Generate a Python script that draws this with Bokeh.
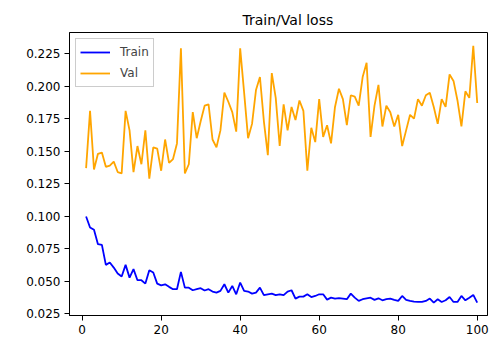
from bokeh.plotting import figure
from bokeh.models import Range1d, FixedTicker, NumeralTickFormatter, Legend, LegendItem
from bokeh.embed import file_html
from bokeh.resources import INLINE

epochs = list(range(1, 101))

train_loss = [
    0.0998, 0.0914, 0.0896, 0.0786, 0.0780, 0.0627, 0.0645, 0.0606, 0.0560, 0.0537,
    0.0627, 0.0529, 0.0594, 0.0509, 0.0509, 0.0483, 0.0586, 0.0568, 0.0483, 0.0470,
    0.0478, 0.0458, 0.0440, 0.0440, 0.0573, 0.0452, 0.0452, 0.0432, 0.0440, 0.0448,
    0.0430, 0.0440, 0.0422, 0.0414, 0.0427, 0.0478, 0.0414, 0.0465, 0.0401, 0.0491,
    0.0427, 0.0422, 0.0406, 0.0414, 0.0452, 0.0394, 0.0401, 0.0406, 0.0394, 0.0401,
    0.0394, 0.0422, 0.0432, 0.0368, 0.0383, 0.0383, 0.0401, 0.0380, 0.0388, 0.0401,
    0.0401, 0.0360, 0.0375, 0.0368, 0.0372, 0.0368, 0.0363, 0.0406, 0.0375, 0.0350,
    0.0363, 0.0370, 0.0375, 0.0358, 0.0370, 0.0355, 0.0363, 0.0368, 0.0358, 0.0350,
    0.0388, 0.0358, 0.0350, 0.0345, 0.0342, 0.0342, 0.0350, 0.0368, 0.0337, 0.0363,
    0.0342, 0.0355, 0.0380, 0.0342, 0.0342, 0.0388, 0.0355, 0.0375, 0.0396, 0.0337,
]

val_loss = [
    0.137, 0.181, 0.136, 0.148, 0.149, 0.138, 0.139, 0.142, 0.134, 0.133,
    0.181, 0.166, 0.134, 0.154, 0.140, 0.166, 0.129, 0.153, 0.152, 0.135,
    0.159, 0.141, 0.144, 0.156, 0.229, 0.133, 0.140, 0.180, 0.160, 0.173,
    0.185, 0.186, 0.159, 0.153, 0.166, 0.195, 0.188, 0.180, 0.165, 0.229,
    0.195, 0.160, 0.171, 0.197, 0.207, 0.173, 0.147, 0.210, 0.191, 0.154,
    0.186, 0.166, 0.184, 0.174, 0.189, 0.181, 0.135, 0.168, 0.157, 0.190,
    0.161, 0.170, 0.156, 0.184, 0.198, 0.190, 0.170, 0.193, 0.192, 0.185,
    0.207, 0.218, 0.161, 0.185, 0.201, 0.169, 0.185, 0.180, 0.169, 0.178,
    0.154, 0.166, 0.178, 0.175, 0.190, 0.185, 0.193, 0.195, 0.184, 0.171,
    0.190, 0.184, 0.209, 0.204, 0.189, 0.169, 0.196, 0.191, 0.231, 0.187,
]

x_ticks = [0, 20, 40, 60, 80, 100]
y_ticks = [0.025, 0.050, 0.075, 0.100, 0.125, 0.150, 0.175, 0.200, 0.225]

FONT = "DejaVu Sans"

p = figure(width=493, height=339, output_backend="svg", toolbar_location=None,
           x_range=Range1d(-3.2, 102.6), y_range=Range1d(0.0238, 0.2412),
           min_border_left=69, min_border_right=6, min_border_top=32, min_border_bottom=24)

p.title.text = "Train/Val loss"
p.title.align = "left"
p.title.offset = 173
p.title.text_font = FONT
p.title.text_font_size = "14px"
p.title.text_font_style = "normal"
p.title.text_color = "black"

p.xgrid.visible = False
p.ygrid.visible = False
p.outline_line_color = "black"
p.outline_line_width = 1
p.background_fill_color = "white"
p.border_fill_color = "white"

for ax in (p.xaxis[0], p.yaxis[0]):
    ax.major_label_text_font = FONT
    ax.major_label_text_font_size = "12px"
    ax.major_label_text_color = "black"
    ax.major_tick_out = 5
    ax.major_tick_in = 0
    ax.minor_tick_out = 0
    ax.minor_tick_in = 0
    ax.axis_line_color = "black"
    ax.major_tick_line_color = "black"
    ax.major_label_standoff = 4

p.xaxis[0].ticker = FixedTicker(ticks=x_ticks)
p.yaxis[0].ticker = FixedTicker(ticks=y_ticks)
p.yaxis[0].formatter = NumeralTickFormatter(format="0.000")

r_train = p.line(epochs, train_loss, line_color="#0000ff", line_width=1.8)
r_val = p.line(epochs, val_loss, line_color="#ffa500", line_width=1.8)

legend = Legend(items=[LegendItem(label="Train", renderers=[r_train]),
                       LegendItem(label="Val", renderers=[r_val])],
                location="top_left", margin=6, padding=4, spacing=3,
                glyph_width=30, glyph_height=18, label_height=18, label_standoff=10,
                label_text_font=FONT, label_text_font_size="12px",
                border_line_color="#cccccc", border_line_alpha=1.0,
                background_fill_alpha=0.8)
p.add_layout(legend)

open("out.html", "w").write(file_html(p, INLINE))
